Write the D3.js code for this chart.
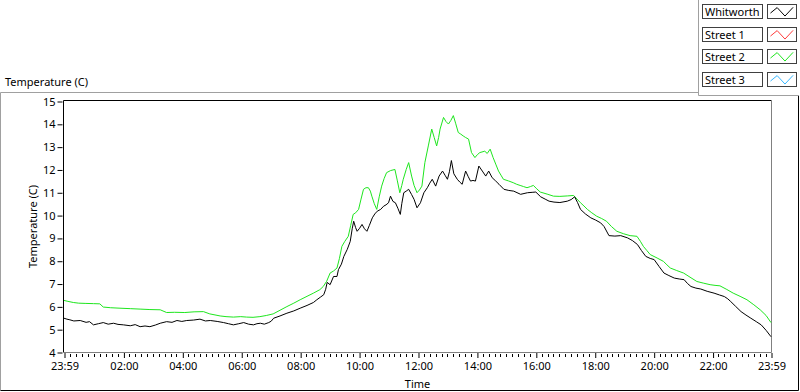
<!DOCTYPE html>
<html>
<head>
<meta charset="utf-8">
<script src="https://cdn.jsdelivr.net/npm/d3@7"></script>
<style>
    body { margin: 0; background: #ffffff; }
    text { font-family: "Noto Sans", sans-serif; font-size: 11px; fill: #000; }
</style>
</head>
<body>
<svg id="chart" width="800" height="392"></svg>
<script>
// Time is stored as minutes after 23:59 of the previous day
const whitworthMinutes = [0, 6, 12, 20, 33, 45, 52, 60, 70, 80, 90, 101, 110, 121, 135, 145, 155, 165, 175, 186,
    196, 209, 220, 230, 240, 250, 264, 277, 288, 298, 312, 325, 335, 345, 356, 366, 376, 386, 393, 400,
    408, 417, 422, 427, 440, 454, 468, 481, 495, 508, 515, 522, 529, 533, 536, 542, 549, 556, 559, 565,
    570, 577, 583, 587, 590, 594, 597, 602, 607, 612, 617, 622, 628, 633, 638, 645, 651, 656, 661, 665,
    670, 675, 680, 685, 688, 692, 697, 702, 708, 713, 719, 726, 733, 740, 745, 750, 757, 764, 771, 776,
    781, 785, 789, 794, 801, 806, 811, 818, 823, 828, 833, 838, 845, 852, 859, 865, 872, 879, 886, 896,
    906, 916, 930, 944, 955, 961, 971, 980, 988, 998, 1010, 1025, 1033, 1040, 1046, 1052, 1062, 1073, 1083, 1093,
    1100, 1110, 1122, 1134, 1148, 1158, 1168, 1176, 1185, 1194, 1202, 1212, 1222, 1232, 1243, 1253, 1263, 1270, 1277, 1287,
    1297, 1310, 1324, 1335, 1345, 1352, 1358, 1368, 1379, 1389, 1399, 1410, 1420, 1430, 1440];
const whitworthTemp = [5.48, 5.44, 5.41, 5.36, 5.38, 5.30, 5.33, 5.19, 5.24, 5.29, 5.22, 5.26, 5.21, 5.19, 5.15, 5.20, 5.11, 5.14, 5.11, 5.18,
    5.26, 5.33, 5.30, 5.38, 5.34, 5.38, 5.40, 5.44, 5.36, 5.38, 5.34, 5.29, 5.24, 5.19, 5.24, 5.29, 5.22, 5.19, 5.24, 5.26,
    5.22, 5.29, 5.35, 5.48, 5.58, 5.70, 5.80, 5.92, 6.04, 6.17, 6.29, 6.40, 6.51, 6.75, 7.05, 6.95, 7.31, 7.31, 7.61, 7.85,
    8.19, 8.50, 8.85, 9.40, 9.73, 9.45, 9.29, 9.42, 9.59, 9.40, 9.29, 9.55, 9.88, 10.05, 10.17, 10.25, 10.39, 10.45, 10.54, 10.83,
    10.60, 10.54, 10.30, 10.03, 10.50, 10.98, 11.05, 11.13, 10.90, 10.69, 10.32, 10.54, 10.98, 11.20, 11.40, 11.57, 11.27, 11.71, 11.93, 11.75,
    11.57, 11.90, 12.39, 11.81, 11.57, 11.45, 11.35, 11.93, 11.70, 11.49, 11.52, 11.49, 12.15, 11.93, 11.71, 11.93, 11.64, 11.50, 11.35, 11.13,
    11.08, 11.05, 10.91, 10.98, 11.00, 11.01, 10.80, 10.70, 10.61, 10.57, 10.55, 10.61, 10.68, 10.80, 10.55, 10.25, 10.05, 9.88, 9.78, 9.66,
    9.50, 9.10, 9.08, 9.10, 9.00, 8.88, 8.71, 8.45, 8.19, 8.10, 8.05, 7.75, 7.46, 7.35, 7.24, 7.20, 7.17, 7.00, 6.87, 6.80,
    6.76, 6.66, 6.58, 6.50, 6.43, 6.33, 6.21, 6.00, 5.77, 5.62, 5.48, 5.33, 5.19, 4.95, 4.67];

const street2Minutes = [0, 8, 19, 30, 43, 60, 73, 80, 95, 114, 135, 155, 175, 196, 209, 225, 246, 265, 284, 297,
    318, 330, 345, 360, 372, 385, 399, 412, 426, 440, 454, 468, 481, 495, 508, 521, 528, 535, 542, 549,
    556, 561, 566, 572, 579, 584, 589, 594, 600, 605, 610, 615, 620, 624, 627, 632, 637, 642, 647, 652,
    657, 665, 674, 679, 684, 688, 691, 697, 702, 708, 713, 719, 724, 729, 735, 742, 749, 754, 759, 763,
    766, 773, 778, 783, 788, 793, 798, 803, 808, 813, 818, 824, 830, 837, 842, 847, 857, 862, 868, 874,
    880, 885, 890, 895, 905, 915, 922, 929, 936, 943, 950, 956, 963, 970, 984, 997, 1010, 1025, 1038, 1045,
    1052, 1059, 1066, 1075, 1085, 1095, 1105, 1115, 1126, 1140, 1153, 1167, 1174, 1180, 1187, 1194, 1208, 1221, 1228, 1235,
    1248, 1262, 1275, 1289, 1302, 1316, 1326, 1336, 1350, 1363, 1377, 1391, 1405, 1418, 1430, 1440];
const street2Temp = [6.26, 6.22, 6.17, 6.14, 6.13, 6.12, 6.11, 5.97, 5.94, 5.92, 5.90, 5.88, 5.86, 5.85, 5.73, 5.74, 5.73, 5.76, 5.77, 5.67,
    5.58, 5.55, 5.53, 5.55, 5.53, 5.52, 5.55, 5.60, 5.67, 5.83, 5.99, 6.14, 6.29, 6.44, 6.58, 6.73, 6.87, 7.10, 7.46, 7.55,
    7.68, 8.10, 8.63, 8.85, 9.07, 9.55, 10.03, 10.10, 10.25, 10.70, 11.13, 11.20, 11.20, 11.05, 10.83, 10.50, 10.25, 10.80, 11.27, 11.60,
    11.86, 11.95, 12.00, 11.50, 10.98, 11.30, 11.57, 12.00, 12.30, 11.71, 11.30, 10.98, 11.10, 11.27, 12.30, 13.03, 13.77, 13.40, 13.03, 13.40,
    13.77, 14.28, 14.10, 13.99, 14.15, 14.36, 14.00, 13.62, 13.55, 13.47, 13.40, 13.33, 12.74, 12.52, 12.65, 12.74, 12.80, 12.70, 12.89, 12.52,
    12.20, 11.93, 11.75, 11.57, 11.50, 11.42, 11.35, 11.30, 11.25, 11.20, 11.25, 11.30, 11.15, 11.01, 10.92, 10.83, 10.82, 10.84, 10.86, 10.70,
    10.54, 10.40, 10.25, 10.10, 9.95, 9.85, 9.73, 9.50, 9.29, 9.18, 9.10, 9.07, 8.85, 8.63, 8.45, 8.27, 8.12, 7.97, 7.82, 7.68,
    7.57, 7.46, 7.28, 7.09, 7.02, 6.95, 6.92, 6.90, 6.74, 6.58, 6.44, 6.29, 6.07, 5.85, 5.60, 5.29];

const legendNames = ["Whitworth", "Street 1", "Street 2", "Street 3"];
const legendColors = ["#000000", "#ff3c3c", "#1ee61e", "#38b8ff"];

const yTickValues = [4, 5, 6, 7, 8, 9, 10, 11, 12, 13, 14, 15];
const xTickMinutes = [0, 121, 241, 361, 481, 601, 721, 841, 961, 1081, 1201, 1321, 1440];
const xTickLabels = ["23:59", "02:00", "04:00", "06:00", "08:00", "10:00", "12:00",
    "14:00", "16:00", "18:00", "20:00", "22:00", "23:59"];

const svg = d3.select("#chart");

// Plot area bounds (pixels)
const plotLeft = 64, plotRight = 771, plotTop = 101, plotBottom = 352;

const xScale = d3.scaleLinear().domain([0, 1440]).range([plotLeft, plotRight]);
const yScale = d3.scaleLinear().domain([4, 15]).range([plotBottom, plotTop]);

// Outer panel frame
svg.append("line").attr("x1", 0.5).attr("x2", 0.5).attr("y1", 92.5).attr("y2", 390.5).attr("stroke", "#a0a0a0");
svg.append("line").attr("x1", 0.5).attr("x2", 698.5).attr("y1", 92.5).attr("y2", 92.5).attr("stroke", "#a0a0a0");
svg.append("line").attr("x1", 0.5).attr("x2", 798.5).attr("y1", 390.5).attr("y2", 390.5).attr("stroke", "#000");
svg.append("line").attr("x1", 798.5).attr("x2", 798.5).attr("y1", 95.5).attr("y2", 390.5).attr("stroke", "#000");

// Legend panel frame
svg.append("line").attr("x1", 698.5).attr("x2", 698.5).attr("y1", 0).attr("y2", 95.5).attr("stroke", "#a0a0a0");
svg.append("line").attr("x1", 698.5).attr("x2", 799).attr("y1", 95.5).attr("y2", 95.5).attr("stroke", "#a0a0a0");

// Graph title
svg.append("text")
    .attr("x", 5)
    .attr("y", 86)
    .text("Temperature (C)");

// Plot frame: dark top/left, grey bottom/right
svg.append("line").attr("x1", plotLeft - 0.5).attr("x2", plotRight + 0.5).attr("y1", plotTop - 0.5).attr("y2", plotTop - 0.5).attr("stroke", "#000");
svg.append("line").attr("x1", plotLeft - 0.5).attr("x2", plotLeft - 0.5).attr("y1", plotTop - 0.5).attr("y2", plotBottom + 0.5).attr("stroke", "#000");
svg.append("line").attr("x1", plotRight + 0.5).attr("x2", plotRight + 0.5).attr("y1", plotTop - 0.5).attr("y2", plotBottom + 0.5).attr("stroke", "#808080");
svg.append("line").attr("x1", plotLeft - 0.5).attr("x2", plotRight + 0.5).attr("y1", plotBottom + 0.5).attr("y2", plotBottom + 0.5).attr("stroke", "#808080");

// Y axis
const yAxis = d3.axisLeft(yScale)
    .tickValues(yTickValues)
    .tickFormat(d3.format("d"))
    .tickSize(5)
    .tickPadding(2);

const yAxisGroup = svg.append("g")
    .attr("transform", `translate(${plotLeft - 1.5}, 0.5)`)
    .call(yAxis);
yAxisGroup.select(".domain").remove();
yAxisGroup.selectAll("text").style("font-family", "Noto Sans, sans-serif").style("font-size", "11px").attr("fill", "#000");
yAxisGroup.selectAll(".tick line").attr("stroke", "#000");

// X axis: minor ticks every 12 minutes, labelled majors every 2 hours
const minorTicks = d3.range(13, 1440, 12).filter(m => (m - 1) % 120 !== 0);
svg.append("g")
    .selectAll("line")
    .data(minorTicks)
    .join("line")
    .attr("x1", d => Math.round(xScale(d)) + 0.5)
    .attr("x2", d => Math.round(xScale(d)) + 0.5)
    .attr("y1", plotBottom + 2)
    .attr("y2", plotBottom + 5)
    .attr("stroke", "#000");

const xAxis = d3.axisBottom(xScale)
    .tickValues(xTickMinutes)
    .tickFormat((d, i) => xTickLabels[i])
    .tickSize(5)
    .tickPadding(4);

const xAxisGroup = svg.append("g")
    .attr("transform", `translate(0.5, ${plotBottom + 1})`)
    .call(xAxis);
xAxisGroup.select(".domain").remove();
xAxisGroup.selectAll("text").style("font-family", "Noto Sans, sans-serif").style("font-size", "11px").attr("fill", "#000");
xAxisGroup.selectAll(".tick line").attr("stroke", "#000");

// Axis names
svg.append("text")
    .attr("x", (plotLeft + plotRight) / 2)
    .attr("y", 388)
    .attr("text-anchor", "middle")
    .attr("fill", "#1a0a0a")
    .text("Time");

svg.append("text")
    .attr("transform", `translate(37, ${(plotTop + plotBottom) / 2}) rotate(-90)`)
    .attr("text-anchor", "middle")
    .attr("fill", "#1a0a0a")
    .text("Temperature (C)");

// Data lines
const line = d3.line()
    .x(d => xScale(d[0]))
    .y(d => yScale(d[1]))
    .curve(d3.curveLinear);

const street2Data = street2Minutes.map((m, i) => [m, street2Temp[i]]);
const whitworthData = whitworthMinutes.map((m, i) => [m, whitworthTemp[i]]);

svg.append("path")
    .datum(street2Data)
    .attr("fill", "none")
    .attr("stroke", legendColors[2])
    .attr("stroke-width", 1)
    .attr("d", line);

svg.append("path")
    .datum(whitworthData)
    .attr("fill", "none")
    .attr("stroke", legendColors[0])
    .attr("stroke-width", 1)
    .attr("d", line);

// Legend
const rowStep = 22.7;
const legendRows = svg.append("g")
    .selectAll("g")
    .data(legendNames)
    .join("g")
    .attr("transform", (d, i) => `translate(0, ${Math.round(4 + i * rowStep)})`);

legendRows.append("rect")
    .attr("x", 702.5).attr("y", 0.5)
    .attr("width", 60).attr("height", 14)
    .attr("fill", "#fff")
    .attr("stroke", "#404040");

legendRows.append("text")
    .attr("x", 705)
    .attr("y", 11.5)
    .text(d => d);

legendRows.append("rect")
    .attr("x", 767.5).attr("y", 0.5)
    .attr("width", 29).attr("height", 14)
    .attr("fill", "#fff")
    .attr("stroke", "#404040");

// small zigzag sample of each line style
const zigzag = [[0.12, 0.62], [0.35, 0.2], [0.62, 0.85], [0.9, 0.18]];
const symbolLine = d3.line()
    .x(p => 767 + p[0] * 29)
    .y(p => 1 + p[1] * 13);

legendRows.append("path")
    .attr("d", symbolLine(zigzag))
    .attr("fill", "none")
    .attr("stroke", (d, i) => legendColors[i]);
</script>
</body>
</html>
